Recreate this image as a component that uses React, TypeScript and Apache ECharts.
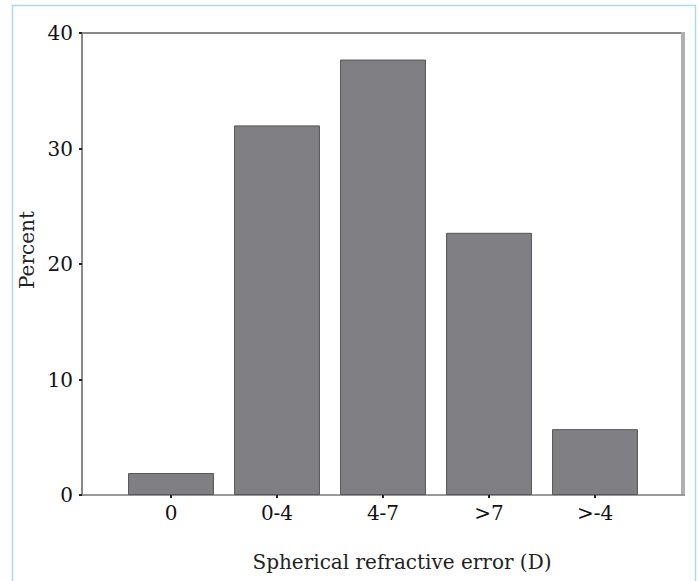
import React, { useEffect, useRef } from "react";
import * as echarts from "echarts";

const categories = ["0", "0-4", "4-7", ">7", ">-4"];
const percentValues = [1.9, 32.0, 37.7, 22.7, 5.7];
const yTicks = { min: 0, max: 40, interval: 10 };
const xTitle = "Spherical refractive error (D)";
const yTitle = "Percent";

const FONT = "DejaVu Serif";

export default function App() {
  const ref = useRef<HTMLDivElement>(null);
  useEffect(() => {
    if (!ref.current) return;
    const chart = echarts.init(ref.current, undefined, { renderer: "svg" });
    chart.setOption({
      animation: false,
      backgroundColor: "#ffffff",
      grid: { left: 118, right: 51, top: 33, bottom: 86 },
      xAxis: {
        type: "category",
        data: categories,
        axisLine: { show: false },
        axisTick: { show: true, alignWithLabel: true, length: 3, lineStyle: { color: "#222", width: 2 } },
        axisLabel: { margin: 8, fontFamily: FONT, fontSize: 20, color: "#111" },
        name: xTitle,
        nameLocation: "middle",
        nameGap: 57,
        nameTextStyle: { fontFamily: FONT, fontSize: 20, color: "#222", padding: [0, 0, 0, 38] },
      },
      yAxis: {
        type: "value",
        min: yTicks.min,
        max: yTicks.max,
        interval: yTicks.interval,
        offset: 36,
        axisLine: { show: true, lineStyle: { color: "#8a8a8a", width: 2 } },
        axisTick: { show: true, length: 3, lineStyle: { color: "#222", width: 2 } },
        axisLabel: { margin: 9, fontFamily: FONT, fontSize: 20, color: "#111" },
        splitLine: { show: false },
        name: yTitle,
        nameLocation: "middle",
        nameGap: 36,
        nameTextStyle: { fontFamily: FONT, fontSize: 20, color: "#222", padding: [0, 0, 0, 28] },
      },
      series: [
        {
          type: "bar",
          data: percentValues,
          barCategoryGap: "19%",
          itemStyle: { color: "#808084", borderColor: "#555558", borderWidth: 1 },
        },
      ],
      graphic: [
        { type: "rect", shape: { x: 12.5, y: 5.5, width: 683, height: 600 }, style: { fill: "none", stroke: "#a6dcee", lineWidth: 1.5 }, z: -1 },
        { type: "line", shape: { x1: 82, y1: 33, x2: 683, y2: 33 }, style: { stroke: "#8a8a8a", lineWidth: 2 } },
        { type: "line", shape: { x1: 683, y1: 32, x2: 683, y2: 496 }, style: { stroke: "#b0b0b0", lineWidth: 4 } },
        { type: "line", shape: { x1: 81, y1: 495, x2: 685, y2: 495 }, style: { stroke: "#999999", lineWidth: 2 } },
      ],
    });
    return () => chart.dispose();
  }, []);
  return <div ref={ref} style={{ position: "absolute", left: 0, top: 0, width: 699, height: 581 }} />;
}
